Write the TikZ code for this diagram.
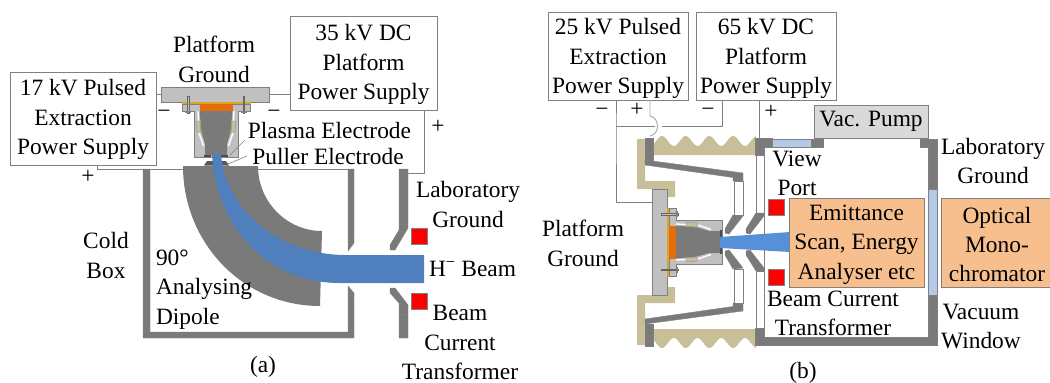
\documentclass[tikz,border=0pt]{standalone}
\usepackage{fontspec}
\setmainfont{Liberation Serif}
\definecolor{wallc}{HTML}{7A7A7A}
\definecolor{edgec}{HTML}{808080}
\definecolor{lgray}{HTML}{C0C0C0}
\definecolor{beige}{HTML}{C8BF98}
\definecolor{beamA}{HTML}{4F7FBD}
\definecolor{beamB}{HTML}{5590D8}
\definecolor{glass}{HTML}{B4C9E6}
\definecolor{peach}{HTML}{F8BF8E}
\definecolor{orng}{HTML}{E46C0A}
\definecolor{yell}{HTML}{D8A820}
\definecolor{pump}{HTML}{D9D9D9}
\tikzset{
  wall/.style={fill=wallc,draw=edgec,line width=.4pt},
  wire/.style={draw=edgec,line width=.9pt},
  leader/.style={draw=edgec,line width=.6pt},
  lab/.style={font=\fontsize{23.4}{29.3}\selectfont,align=center,inner sep=0pt,outer sep=0pt},
  labl/.style={lab,align=left,anchor=west},
  sign/.style={lab,anchor=base},
  psu/.style={draw=edgec,line width=.9pt,fill=white,inner sep=0pt,outer sep=0pt},
  orbox/.style={draw=edgec,line width=.9pt,fill=peach,inner sep=0pt,outer sep=0pt},
  platebox/.style={draw=edgec,fill=lgray,line width=.8pt,inner sep=0pt,outer sep=0pt},
  sensor/.style={fill=red,draw=edgec,line width=.4pt,inner sep=0pt,outer sep=0pt,minimum size=16pt},
  tube/.style={fill=white,draw=edgec,line width=.8pt},
}
\newcommand{\srcassembly}{%
  \fill[yell] (-34.5,0) rectangle (34.5,2);
  \draw[fill=lgray,draw=edgec,line width=.5pt] (-34,2) -- (-34,9) -- (-22,9) -- (-22,55) -- (22,55) -- (22,9) -- (34,9) -- (34,2) -- cycle;
  \fill[orng] (-16.5,2) rectangle (16.5,9);
  \fill[wallc] (-16.5,9) -- (-14.5,30) -- (-11,42) -- (-11,53) -- (11,53) -- (11,42) -- (14.5,30) -- (16.5,9) -- cycle;
  \draw[white,line width=1.4pt] (-18,9) -- (-17.5,19) (-17,31) -- (-12.5,44);
  \draw[white,line width=1.4pt] (18,9) -- (17.5,19) (17,31) -- (12.5,44);
  \fill[beige,draw=edgec,line width=.3pt] (-20,19) -- (-16,19) -- (-15,30) -- (-19,30) -- cycle;
  \fill[beige,draw=edgec,line width=.3pt] (20,19) -- (16,19) -- (15,30) -- (19,30) -- cycle;
  \fill[black!70] (-12,52.5) rectangle (-5,54.5);
  \fill[black!70] (12,52.5) rectangle (5,54.5);
  \foreach \s in {-1,1}{
    \draw[fill=lgray,draw=black!60,line width=.4pt] ({\s*28.5},-6) rectangle ({\s*27},11);
    \fill[black!50] ({\s*31},9) rectangle ({\s*25},11);
  }
}
\newcommand{\conehalf}{%
  \fill[beige] (637,139) -- (645,139) -- (645,181) -- (675,181) -- (675,197) -- (667,197) -- (667,189) -- (637,189) -- cycle;
  \fill[beige] (653,155) -- plot[domain=653:756,samples=70,smooth] (\x,{141-5*cos(15.19*(\x-662))}) -- (756,155) -- cycle;
  \draw[wall] (645,138) rectangle (653,160);
  \draw[wall] (645,160) -- (743,173) -- (743,181) -- (733,181) -- (733,177.5) -- (645,165) -- cycle;
  \draw[tube] (734,181) rectangle (743,215);
  \draw[wall] (733,215) -- (743,216) -- (729,234) -- (725,233) -- (725,229) -- cycle;
  \draw[tube] (756,155) rectangle (764,213);
  \draw[wall] (756,213) -- (764,213) -- (764,216) -- (750,234) -- (746,233) -- (746,229) -- cycle;
}
\begin{document}
\begin{tikzpicture}[x=1pt,y=-1pt]
\useasboundingbox (0,0) rectangle (1050,383);
%%%%%%%%%% (a)
\coordinate (wa1) at (97,169);
\coordinate (wa2) at (183,169);
\coordinate (wa3) at (258,169);
\coordinate (wa4) at (348,169);
\coordinate (wa5) at (424,173);
\coordinate (wa6) at (408,173);
\node[psu,minimum width=146pt,minimum height=93pt] (psuA) at (83,118.5) {};
\node[lab] (tPsuA) at (83,119.5) {17 kV Pulsed\\Extraction\\Power Supply};
\node[psu,minimum width=147pt,minimum height=94pt] (psuB) at (363.5,63) {};
\node[lab] (tPsuB) at (363.5,64.5) {35 kV DC\\Platform\\Power Supply};
\node[platebox,minimum width=108pt,minimum height=15pt] (plateA) at (215,94.5) {};
\draw[wire] (plateA.west) -- (plateA.west -| psuA.east);
\draw[wire] (plateA.east) -- (plateA.east -| psuB.west);
\draw[wire] (psuA.south -| wa1) -- (wa1) -- (wa2);
\draw[wire] (wa3) -- (wa4);
\draw[wire] (psuB.south -| wa5) -- (wa5) -- (wa6);
% cold box
\draw[wall] (143,169) -- (150,169) -- (150,332) -- (348,332) -- (348,286) -- (354,293) -- (354,338) -- (143,338) -- cycle;
\draw[wall] (348,169) -- (354,169) -- (354,243) -- (348,251) -- cycle;
\draw[leader] (348,238) -- (354,238) (348,299) -- (354,299);
\draw[wall] (399,169) -- (408,169) -- (408,228) -- (395,250) -- (390,250) -- (390,245) -- (399,230) -- cycle;
\draw[wall] (399,338) -- (408,338) -- (408,305) -- (395,288) -- (390,288) -- (390,293) -- (399,303) -- cycle;
\draw[leader] (399,224) -- (408,224) (399,314) -- (408,314);
% dipole
\fill[wallc] (183,166) -- (258,166) .. controls (258,202) and (287,231) .. (322,231) -- (320,306) .. controls (243,306) and (183,243) .. (183,166) -- cycle;
\fill[black!65] (207,161) -- (226,161) -- (229,165.5) -- (204,165.5) -- cycle;
% source
\begin{scope}[shift={(216,102)}]
\srcassembly
\end{scope}
% beam
\fill[beamA] (221,154) .. controls (226,215) and (285,255) .. (345,255) -- (424,255) -- (424,283) -- (340,283) .. controls (265,283) and (216,225) .. (212,154) -- cycle;
\node[sensor] (ctA1) at (419,236) {};
\node[sensor] (ctA2) at (419,301) {};
\draw[leader] (230,155) -- (245,140);
\draw[leader] (228,164) -- (247,156);
\node[lab] (tPG) at (214,59.5) {Platform\\Ground};
\node[lab] (tPlasma) at (329.5,130) {Plasma Electrode};
\node[lab] (tPuller) at (328,156) {Puller Electrode};
\node[sign] (mA1) at (164,118) {−};
\node[sign] (mA2) at (274,118) {−};
\node[sign] (pA1) at (88,183) {+};
\node[sign] (pA2) at (438,133) {+};
\node[lab] (tLabA) at (468,204.5) {Laboratory\\Ground};
\node[labl] (tHm) at (429,269) {H\textsuperscript{−} Beam};
\node[lab] (tBCT) at (460,342.5) {Beam\\Current\\Transformer};
\node[lab] (tCold) at (106,255.5) {Cold\\Box};
\node[labl] (tDip) at (156,289.5) {90°\\Analysing\\Dipole};
\node[lab] (tCa) at (263,367) {(a)};
%%%%%%%%%% (b)
\conehalf
\begin{scope}[shift={(0,484)},yscale=-1]
\conehalf
\end{scope}
% chamber
\fill[white] (764,147) rectangle (928,337);
\draw[leader] (764,147) -- (764,337) -- (928,337) -- (928,147);
\node[draw=edgec,fill=pump,line width=.9pt,inner sep=0pt,outer sep=0pt,minimum width=114pt,minimum height=33pt] (pump) at (871,121.5) {};
\node[lab] (tPump) at (871,121) {Vac. Pump};
\draw[wall] (755,138) -- (772,138) -- (772,147) -- (764,147) -- (764,155) -- (755,155) -- cycle;
\draw[fill=glass,draw=edgec,line width=.4pt] (772,139) rectangle (811,147);
\draw[wall] (811,139) rectangle (823,147);
\draw[wall] (920,139) -- (937,139) -- (937,189) -- (928,189) -- (928,147) -- (920,147) -- cycle;
\draw[fill=glass,draw=edgec,line width=.4pt] (928,189) rectangle (937,295);
\draw[wall] (928,295) -- (937,295) -- (937,345) -- (755,345) -- (755,328) -- (764,328) -- (764,337) -- (928,337) -- cycle;
% wires
\node[psu,minimum width=140pt,minimum height=88pt] (psuC) at (618,56) {};
\node[lab] (tPsuC) at (618,58.5) {25 kV Pulsed\\Extraction\\Power Supply};
\node[psu,minimum width=140pt,minimum height=88pt] (psuD) at (766,56) {};
\node[lab] (tPsuD) at (766,58.5) {65 kV DC\\Platform\\Power Supply};
\node[platebox,minimum width=15pt,minimum height=106pt] (plateB) at (659.5,242) {};
\coordinate (wb1) at (616,126);
\coordinate (wb2) at (616,202);
\coordinate (wb3) at (722,126);
\coordinate (wb4) at (655,126);
\coordinate (wb5) at (662,126);
\coordinate (wb6) at (650,116);
\coordinate (wb7) at (650,136);
\coordinate (wb8) at (759,139);
\draw[wire] (psuC.south -| wb1) -- (wb1) -- (wb2) -- (wb2 -| plateB.west);
\draw[wire] (wb1) -- (wb4);
\draw[wire] (psuD.south -| wb3) -- (wb3) -- (wb5);
\draw[wire,draw=edgec!70] (psuC.south -| wb6) -- (wb6) .. controls (660,118) and (660,134) .. (wb7);
\draw[wire] (psuD.south -| wb8) -- (wb8);
% source
\begin{scope}[shift={(667,242)},x={(0,-1pt)},y={(1pt,0)}]
\srcassembly
\end{scope}
\fill[beamB] (720,237) -- (790,232) -- (790,252) -- (720,248) -- cycle;
\node[sensor] (ctB1) at (776,207) {};
\node[sensor] (ctB2) at (776,277) {};
\node[orbox,minimum width=135pt,minimum height=89pt] (emit) at (856.5,242.5) {};
\node[lab] (tEmit) at (856.5,244.5) {Emittance\\Scan, Energy\\Analyser etc};
\node[orbox,minimum width=112pt,minimum height=89pt] (opt) at (997,242.5) {};
\node[lab] (tOpt) at (997,244.5) {Optical\\Mono-\\chromator};
\node[lab] (tPGb) at (583,243.5) {Platform\\Ground};
\node[sign] (mB1) at (602,116) {−};
\node[sign] (pB1) at (637,116) {+};
\node[sign] (mB2) at (708,116) {−};
\node[sign] (pB2) at (771,118) {+};
\node[lab] (tView) at (797,173.5) {View\\Port};
\node[lab] (tLabB) at (993,161) {Laboratory\\Ground};
\node[lab] (tBCTb) at (833,313.5) {Beam Current\\Transformer};
\node[lab] (tVac) at (981,326.5) {Vacuum\\Window};
\node[lab] (tCb) at (803,373) {(b)};
\end{tikzpicture}
\end{document}
